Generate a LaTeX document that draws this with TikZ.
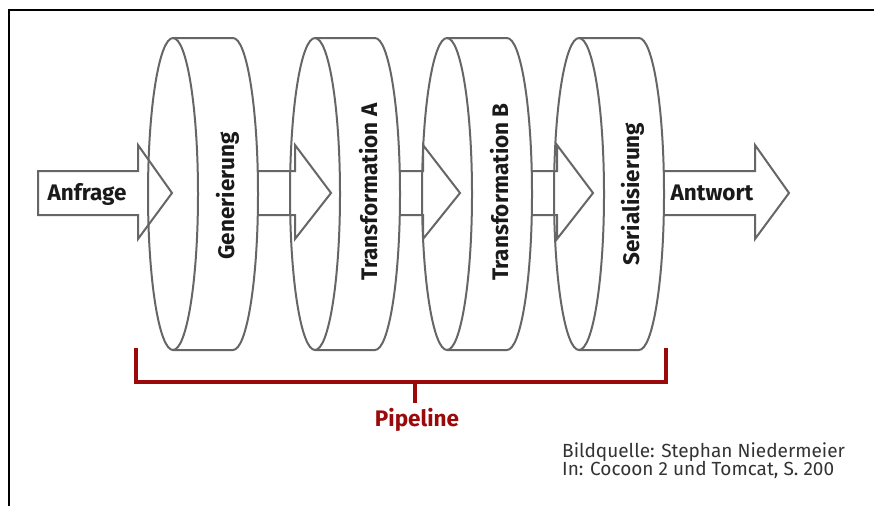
\documentclass[tikz,border=0pt]{standalone}
\usepackage{fontspec}
\setmainfont{Fira Sans}
\definecolor{discgray}{HTML}{666666}
\definecolor{pipered}{HTML}{9B0A0A}
\definecolor{credit}{HTML}{333333}
\definecolor{txt}{HTML}{1A1A1A}
\tikzset{
  disc/.style={draw=discgray, line width=2pt},
  arrowshape/.style={draw=discgray, line width=2pt, line join=miter},
  lbl/.style={font=\fontsize{22.5}{26}\selectfont\bfseries, text=txt, inner sep=0pt},
  vlbl/.style={lbl, rotate=90, anchor=base},
  bracket/.style={draw=pipered, line width=4.5pt},
  creditstyle/.style={font=\fontsize{19}{22}\selectfont, text=credit, inner sep=0pt, anchor=base west}
}
\newcommand{\pipedisc}[1]{%
  \draw[disc] (#1,194) ellipse (25pt and 156pt);
  \draw[disc] (#1,38) -- ({#1+60},38) arc (90:-90:25pt and 156pt) -- (#1,350);
}
\newcommand{\openarrow}[3]{%
  \draw[arrowshape] (#1,171) -- (#2,171) -- (#2,145) -- (#3,193) -- (#2,239) -- (#2,215) -- (#1,215);
}
\begin{document}
\begin{tikzpicture}[x=1pt,y=-1pt]
\useasboundingbox (0,0) rectangle (874,506);
\fill[white] (0,0) rectangle (874,506);
% frame
\draw[black, line width=1.3pt] (9,506) -- (9,10) -- (874,10);
% discs
\pipedisc{173}
\pipedisc{315}
\pipedisc{447}
\pipedisc{579}
% arrows
\draw[arrowshape] (38,171) -- (138,171) -- (138,145) -- (172,193) -- (138,239) -- (138,215) -- (38,215) -- cycle;
\openarrow{258}{295}{331}
\openarrow{400}{423}{460}
\openarrow{532}{557}{593}
\openarrow{664}{755}{789}
% labels
\node[lbl, anchor=base] (anfrage) at (87,200) {Anfrage};
\node[lbl, anchor=base] (antwort) at (712,200) {Antwort};
\node[vlbl] (gen) at (234,196) {Generierung};
\node[vlbl] (tA) at (377,192) {Transformation A};
\node[vlbl] (tB) at (508,192) {Transformation B};
\node[vlbl] (ser) at (639,194) {Serialisierung};
% bracket
\coordinate (bl) at (136,348);
\coordinate (br) at (666,348);
\coordinate (bm) at (415,382);
\draw[bracket] (bl) -- (136,382) -- (666,382) -- (br);
\draw[bracket] (bm) -- (415,403);
\node[lbl, text=pipered, anchor=base] (pipe) at (417,426) {Pipeline};
% credit
\node[creditstyle] (c1) at (562,457) {Bildquelle: Stephan Niedermeier};
\node[creditstyle] (c2) at (562,475) {In: Cocoon 2 und Tomcat, S. 200};
\end{tikzpicture}
\end{document}
